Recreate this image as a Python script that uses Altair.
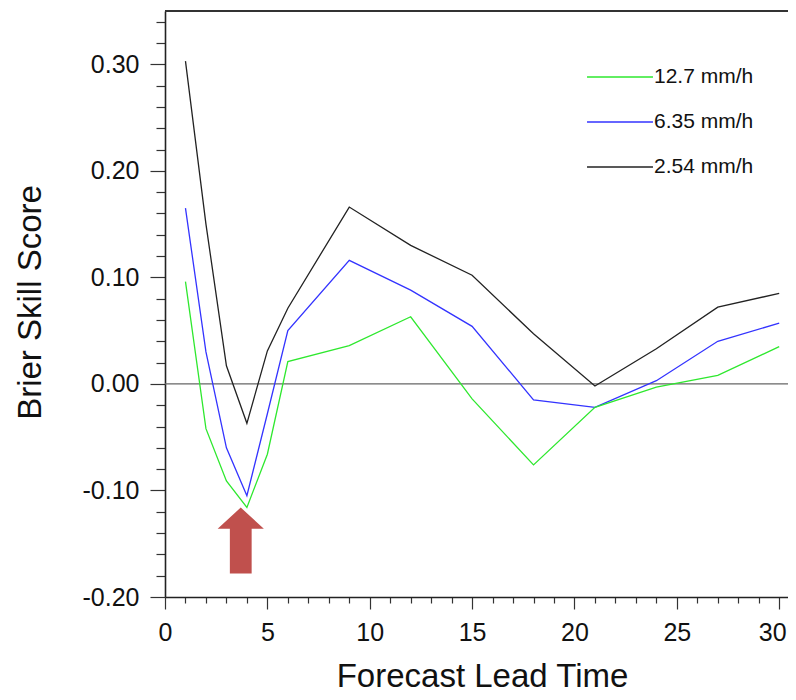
import altair as alt
import pandas as pd

# ---- data ----
LEAD = [1, 2, 3, 4, 5, 6, 9, 12, 15, 18, 21, 24, 27, 30]
BSS_254 = [0.303, 0.150, 0.017, -0.037, 0.031, 0.071, 0.166, 0.130, 0.102, 0.047, -0.002, 0.033, 0.072, 0.085]
BSS_635 = [0.165, 0.030, -0.060, -0.105, -0.028, 0.050, 0.116, 0.088, 0.054, -0.015, -0.022, 0.003, 0.040, 0.057]
BSS_127 = [0.096, -0.042, -0.091, -0.116, -0.066, 0.021, 0.036, 0.063, -0.014, -0.076, -0.022, -0.003, 0.008, 0.035]

SERIES = ["12.7 mm/h", "6.35 mm/h", "2.54 mm/h"]
COLORS = ["#2ee82e", "#3333ff", "#222222"]

X_TICKS = list(range(0, 31))
Y_TICKS = [-0.20, -0.18, -0.16, -0.14, -0.12, -0.10, -0.08, -0.06, -0.04, -0.02,
           0.00, 0.02, 0.04, 0.06, 0.08, 0.10, 0.12, 0.14, 0.16, 0.18,
           0.20, 0.22, 0.24, 0.26, 0.28, 0.30, 0.32, 0.34]

ARROW_X = [3.7]
ARROW_Y = [-0.147]

# ---- tables ----
rows = []
for name, vals in [("2.54 mm/h", BSS_254), ("6.35 mm/h", BSS_635), ("12.7 mm/h", BSS_127)]:
    for x, v in zip(LEAD, vals):
        rows.append({"lead": x, "bss": v, "series": name})
df = pd.DataFrame(rows)
zero_df = pd.DataFrame({"bss": [0.0]})
arrow_df = pd.DataFrame({"lead": ARROW_X, "bss": ARROW_Y})

W, H = 623, 586
FONT = "Liberation Sans"

x_scale = alt.Scale(domain=[0, 30.43], nice=False, zero=False)
y_scale = alt.Scale(domain=[-0.20, 0.35], nice=False, zero=False)

MAJ_Y = "abs(datum.value*10 - round(datum.value*10)) < 0.001"

x_axis = alt.Axis(
    values=X_TICKS,
    labelExpr="datum.value % 5 == 0 ? datum.label : ''",
    tickSize={"condition": {"test": "datum.value % 5 == 0", "value": 12}, "value": 6},
    labelOffset={"condition": {"test": "datum.value == 30", "value": -7}, "value": 0},
    title="Forecast Lead Time",
    titleX=317, titleY=89, titleAlign="center", titleBaseline="alphabetic",
    titleFontSize=33, titleFont=FONT, titleFontWeight="normal", titleColor="#111",
    labelFontSize=25, labelFont=FONT, labelColor="#111", labelPadding=11,
    domainColor="#222", domainWidth=1.6, tickColor="#333", tickWidth=1.2,
    grid=False, labelFlush=False, labelOverlap=False,
)

y_axis = alt.Axis(
    values=Y_TICKS,
    labelExpr=MAJ_Y + " ? replace(format(datum.value, '.2f'), '\u2212', '-') : ''",
    tickSize={"condition": {"test": MAJ_Y, "value": 15}, "value": 9},
    title="Brier Skill Score",
    titleX=-135, titleY=291, titleAngle=-90, titleAlign="center", titleBaseline="middle",
    titleFontSize=33, titleFont=FONT, titleFontWeight="normal", titleColor="#111",
    labelFontSize=25, labelFont=FONT, labelColor="#111", labelPadding=11,
    domainColor="#222", domainWidth=1.6, tickColor="#333", tickWidth=1.2,
    grid=False, labelFlush=False, labelOverlap=False,
)

zero_line = alt.Chart(zero_df).mark_rule(color="#666666", strokeWidth=1.3).encode(
    y=alt.Y("bss:Q", scale=y_scale, axis=y_axis)
)

LEGEND_LINE = "M-1.57,0 L1.57,0"

lines = alt.Chart(df).mark_line(strokeWidth=1.3).encode(
    x=alt.X("lead:Q", scale=x_scale, axis=x_axis),
    y=alt.Y("bss:Q", scale=y_scale, axis=y_axis),
    color=alt.Color(
        "series:N",
        scale=alt.Scale(domain=SERIES, range=COLORS),
        legend=alt.Legend(
            orient="none", legendX=433, legendY=44, title=None,
            symbolType=LEGEND_LINE, symbolSize=1764, symbolStrokeWidth=1.3,
            symbolFillColor="transparent",
            labelFontSize=21, labelFont=FONT, labelColor="#111", labelOffset=12,
            rowPadding=13, padding=0,
        ),
    ),
    detail="series:N",
)

ARROW_PATH = "M0,-1 L0.7,-0.36 L0.33,-0.36 L0.33,1 L-0.33,1 L-0.33,-0.36 L-0.7,-0.36 Z"
arrow = alt.Chart(arrow_df).mark_point(
    shape=ARROW_PATH, filled=True, size=4356, color="#c0504d", opacity=1, strokeWidth=0
).encode(
    x=alt.X("lead:Q", scale=x_scale, axis=x_axis),
    y=alt.Y("bss:Q", scale=y_scale, axis=y_axis),
)

top_border = alt.Chart(zero_df).mark_rule(color="#333333", strokeWidth=2).encode(
    x=alt.value(0), x2=alt.value(W), y=alt.value(0)
)

chart = alt.layer(zero_line, lines, arrow, top_border).properties(
    width=W, height=H,
    autosize=alt.AutoSizeParams(type="none"),
    padding={"left": 157, "top": 3, "right": 0, "bottom": 95},
    background="white",
).configure_view(strokeWidth=0).configure_axis(labelOverlap=False)

chart.save("out.html", embed_options={"renderer": "svg", "actions": False})
